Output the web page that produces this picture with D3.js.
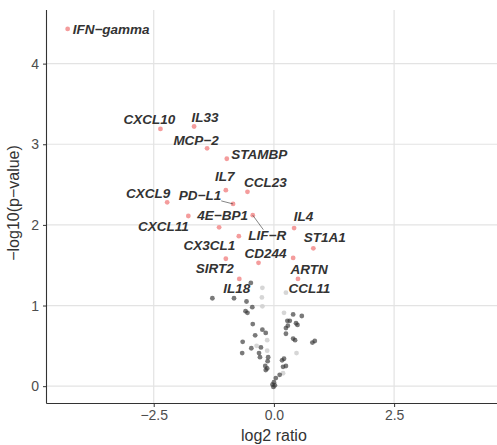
<!DOCTYPE html>
<html>
<head>
<meta charset="utf-8">
<script src="https://cdn.jsdelivr.net/npm/d3@7"></script>
<style>
  body { margin: 0; background: #fff; }
  text { font-family: "Liberation Sans", Arial, sans-serif; }
</style>
</head>
<body>
<div id="chart"></div>
<script>
// significant proteins (labelled, red)
const hitNames = ["IFN−gamma", "CXCL10", "IL33", "MCP−2", "STAMBP", "IL7", "CCL23", "CXCL9", "PD−L1", "LIF−R",
  "CXCL11", "4E−BP1", "CX3CL1", "SIRT2", "CD244", "IL18", "IL4", "ST1A1", "ARTN", "CCL11"]
const hitX = [-4.29, -2.36, -1.66, -1.39, -0.98, -1.00, -0.55, -2.22, -0.85, -0.44,
  -1.78, -1.14, -0.73, -1.00, -0.32, -0.72, 0.42, 0.82, 0.40, 0.50]
const hitY = [4.43, 3.19, 3.22, 2.95, 2.82, 2.43, 2.41, 2.28, 2.26, 2.12,
  2.11, 1.97, 1.86, 1.58, 1.53, 1.33, 1.96, 1.71, 1.59, 1.33]

// the rest (dark grey)
const greyX = [-1.28, -0.83, -0.57, -0.45, -0.59, -0.55, -0.48, -0.44, -0.65, -0.24, -0.17, -0.39, -0.66, -0.47,
  -0.27, -0.31, -0.29, -0.12, -0.13, -0.18, -0.14, -0.17, 0.17, 0.21, 0.19, 0.25, 0.12, 0.04, 0.0, -0.03, 0.02,
  -0.01, 0.40, 0.58, 0.28, 0.33, 0.29, 0.25, 0.46, 0.49, 0.40, 0.44, 0.25, 0.80, 0.85]
const greyY = [1.09, 1.09, 1.05, 0.98, 0.93, 0.91, 1.28, 0.77, 0.55, 0.70, 0.66, 0.63, 0.41, 0.47,
  0.48, 0.41, 0.36, 0.36, 0.31, 0.25, 0.22, 0.20, 0.32, 0.34, 0.24, 0.25, 0.14, 0.10, 0.05, 0.02, 0.01,
  -0.01, 0.89, 0.87, 0.81, 0.81, 0.75, 0.72, 0.78, 0.76, 0.59, 0.57, 0.65, 0.54, 0.56]

// pale grey group
const paleX = [-0.25, -0.24, -0.24, -0.14, -0.36, -0.14, 0.19, 0.47, 0.21, 0.25]
const paleY = [1.10, 0.99, 1.22, 0.57, 0.50, 0.44, 0.16, 0.41, 0.91, 1.16]

const xTicks = [-2.5, 0, 2.5]
const yTicks = [0, 1, 2, 3, 4]

// repel-style label offsets in px from the point
const labelNudge = {
  "IFN−gamma": [5, 1], "CXCL10": [-11, -9], "IL33": [11, -9.5], "MCP−2": [-11, -8], "STAMBP": [32.5, -4.5],
  "IL7": [-1, -13.5], "CCL23": [18, -9.5], "CXCL9": [-19, -9], "PD−L1": [-33, -8.5], "LIF−R": [14.5, 20],
  "CXCL11": [-25, 10], "4E−BP1": [3.5, -11.5], "CX3CL1": [-29.5, 9], "SIRT2": [-11, 9.5], "CD244": [7, -9],
  "IL18": [-2.5, 10], "IL4": [9.5, -12], "ST1A1": [11.5, -10.5], "ARTN": [16, 11.5], "CCL11": [11.5, 10]
}
const leaders = new Set(["PD−L1", "LIF−R"])

const width = 497, height = 445
const pLeft = 46.5, pRight = 497, pTop = 10, pBottom = 403.5

const svg = d3.select("#chart").append("svg").attr("width", width).attr("height", height)

const x = d3.scaleLinear().domain([-4.73, 4.64]).range([pLeft, pRight])
const y = d3.scaleLinear().domain([-0.215, 4.665]).range([pBottom, pTop])

// grid
svg.append("g").selectAll("line").data(xTicks).join("line")
  .attr("x1", d => x(d)).attr("x2", d => x(d)).attr("y1", pTop).attr("y2", pBottom)
  .attr("stroke", "#e3e3e3").attr("stroke-width", 1.2)
svg.append("g").selectAll("line").data(yTicks).join("line")
  .attr("x1", pLeft).attr("x2", pRight).attr("y1", d => y(d)).attr("y2", d => y(d))
  .attr("stroke", "#e3e3e3").attr("stroke-width", 1.2)

// axes
const fmt = d3.format(".1f")
const xa = svg.append("g").attr("transform", `translate(0,${pBottom})`)
  .call(d3.axisBottom(x).tickValues(xTicks).tickFormat(fmt).tickSize(3.5).tickSizeOuter(0).tickPadding(3))
const ya = svg.append("g").attr("transform", `translate(${pLeft},0)`)
  .call(d3.axisLeft(y).tickValues(yTicks).tickFormat(d3.format("d")).tickSize(3.5).tickSizeOuter(0).tickPadding(4))
for (const a of [xa, ya]) {
  a.select(".domain").attr("stroke", "#333").attr("stroke-width", 1.1)
  a.selectAll(".tick line").attr("stroke", "#333")
  a.selectAll(".tick text").attr("fill", "#4d4d4d").style("font-size", "14px")
}
ya.select(".domain").attr("d", `M0,${pTop}V${pBottom}`)
xa.select(".domain").attr("d", `M${pLeft},0H${pRight}`)

svg.append("text").attr("x", x(0)).attr("y", 441).attr("text-anchor", "middle")
  .attr("fill", "#333").style("font-size", "16px").text("log2 ratio")
svg.append("text").attr("transform", `translate(19,203) rotate(-90)`).attr("text-anchor", "middle")
  .attr("fill", "#333").style("font-size", "16px").text("−log10(p−value)")

// points
const pts = svg.append("g")
pts.selectAll(".pale").data(d3.zip(paleX, paleY)).join("circle").attr("class", "pale")
  .attr("cx", d => x(d[0])).attr("cy", d => y(d[1])).attr("r", 2.4)
  .attr("fill", "#cfcfcf").attr("opacity", 0.85)
pts.selectAll(".grey").data(d3.zip(greyX, greyY)).join("circle").attr("class", "grey")
  .attr("cx", d => x(d[0])).attr("cy", d => y(d[1])).attr("r", 2.4)
  .attr("fill", "#333").attr("opacity", 0.65)

const hits = hitNames.map((n, i) => ({ name: n, x: hitX[i], y: hitY[i] }))
pts.selectAll(".hit").data(hits).join("circle").attr("class", "hit")
  .attr("cx", d => x(d.x)).attr("cy", d => y(d.y)).attr("r", 2.4)
  .attr("fill", "#f39191").attr("opacity", 0.9)

// labels
const segs = svg.append("g")
const lab = svg.append("g")
for (const d of hits) {
  const [dx, dy] = labelNudge[d.name]
  const px = x(d.x), py = y(d.y)
  const t = lab.append("text")
    .attr("x", px + dx).attr("y", py + dy)
    .attr("text-anchor", d.name === "IFN−gamma" ? "start" : "middle")
    .attr("dominant-baseline", "central")
    .attr("fill", "#333").style("font-size", "13.5px").style("font-weight", "bold").style("font-style", "italic")
    .text(d.name)
  if (leaders.has(d.name)) {
    const b = t.node().getBBox()
    // stop the segment at the label box edge
    const cx = b.x + b.width / 2, cy = b.y + b.height / 2
    const vx = px - cx, vy = py - cy
    const s = Math.min(Math.abs((b.width / 2) / vx), Math.abs((b.height / 2 - 2) / vy))
    segs.append("line").attr("x1", px).attr("y1", py).attr("x2", cx + vx * s).attr("y2", cy + vy * s)
      .attr("stroke", "#333").attr("stroke-width", 0.6)
  }
}
</script>
</body>
</html>
